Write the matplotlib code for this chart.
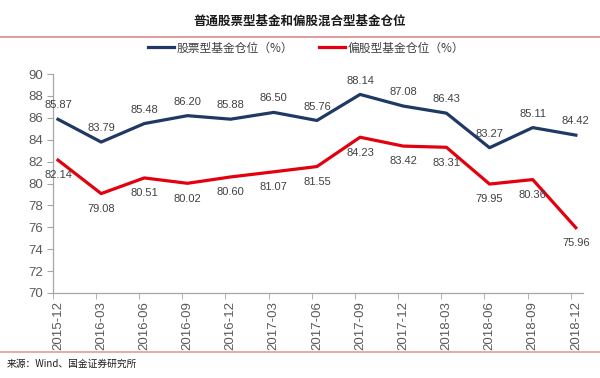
import matplotlib
matplotlib.use("Agg")
import matplotlib.pyplot as plt
from matplotlib.lines import Line2D
import numpy as np

plt.rcParams['font.family'] = ['Liberation Sans', 'Noto Sans CJK SC', 'DejaVu Sans']

quarters = ["2015-12", "2016-03", "2016-06", "2016-09", "2016-12", "2017-03", "2017-06",
            "2017-09", "2017-12", "2018-03", "2018-06", "2018-09", "2018-12"]
stock_fund = [85.87, 83.79, 85.48, 86.20, 85.88, 86.50, 85.76,
              88.14, 87.08, 86.43, 83.27, 85.11, 84.42]
hybrid_fund = [82.14, 79.08, 80.51, 80.02, 80.60, 81.07, 81.55,
               84.23, 83.42, 83.31, 79.95, 80.36, 75.96]

BLUE = "#1f3864"
RED = "#e3000f"
GRID_GRAY = "#a6a6a6"
TXT = "#404040"
CJK = ['Noto Sans CJK SC', 'DejaVu Sans']

fig = plt.figure(figsize=(6.0, 3.78), dpi=100)
ax = fig.add_axes([0.088, 0.225, 0.884, 0.579])

x = np.arange(len(quarters))
ax.plot(x, stock_fund, color=BLUE, lw=2.3, solid_joinstyle="round")
ax.plot(x, hybrid_fund, color=RED, lw=2.3, solid_joinstyle="round")

for xi, v in zip(x, stock_fund):
    ax.annotate(f"{v:.2f}", (xi, v), xytext=(0, 10), textcoords="offset points",
                ha="center", va="center", fontsize=8, color=TXT)
for xi, v in zip(x, hybrid_fund):
    ax.annotate(f"{v:.2f}", (xi, v), xytext=(0, -11), textcoords="offset points",
                ha="center", va="center", fontsize=8, color=TXT)

ax.set_ylim(70, 90)
ax.set_yticks(range(70, 91, 2))
ax.set_xlim(-0.12, 12.17)
ax.set_xticks(x)
ax.set_xticklabels(quarters, rotation=90)
ax.tick_params(axis="x", length=0, pad=6, labelsize=9.5, labelcolor="#595959")
ax.set_xticks(x - 0.12, minor=True)
ax.tick_params(axis="x", which="minor", length=4, color=GRID_GRAY, direction="out")
ax.tick_params(axis="y", length=4, color=GRID_GRAY, direction="out",
               labelsize=9.5, labelcolor="#595959", pad=3)

for s in ["top", "right"]:
    ax.spines[s].set_visible(False)
for s in ["left", "bottom"]:
    ax.spines[s].set_color(GRID_GRAY)
    ax.spines[s].set_linewidth(0.9)

# title and frame lines
fig.text(0.5, 0.945, "普通股票型基金和偏股混合型基金仓位", ha="center", va="center",
         fontsize=9, fontweight="bold", family=CJK, color="#1a1a1a")
fig.add_artist(Line2D([0, 1], [0.902, 0.902], color="#d98a8e", lw=1.2))
fig.add_artist(Line2D([0, 1], [0.069, 0.069], color="#d9a0a0", lw=1.2))

handles = [Line2D([], [], color=BLUE, lw=2.3), Line2D([], [], color=RED, lw=2.3)]
fig.legend(handles, ["股票型基金仓位（%）", "偏股型基金仓位（%）"], loc="center",
           bbox_to_anchor=(0.51, 0.873), ncol=2, frameon=False, handlelength=2.2,
           handletextpad=0.2, columnspacing=2.2, prop={"family": CJK, "size": 8.5},
           labelcolor="#404040")

fig.text(0.012, 0.037, "来源：Wind、国金证券研究所", ha="left", va="center", fontsize=7,
         style="italic", family=CJK, color="#1a1a1a")

fig.savefig("out.png", dpi=100)
